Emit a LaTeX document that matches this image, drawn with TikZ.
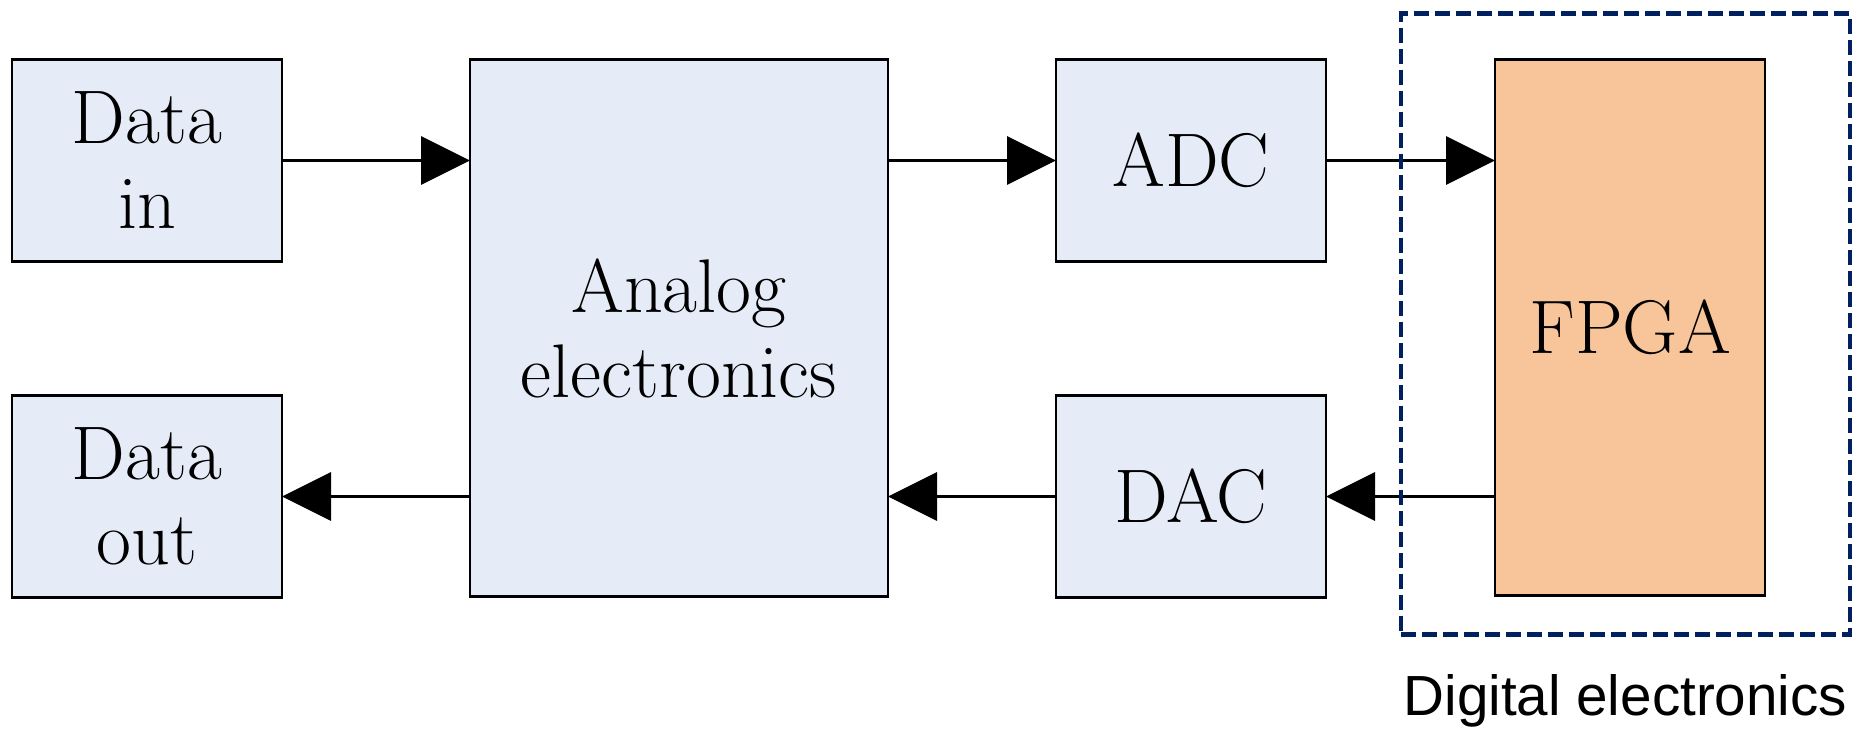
\documentclass[tikz,border=0pt]{standalone}
\usepackage{fontspec}
\newfontfamily\labelfont{Liberation Sans}
\usepackage{xcolor}
\usepackage{tikz}
\usetikzlibrary{arrows.meta, positioning, fit, calc}

\definecolor{boxblue}{HTML}{E6ECF7}
\definecolor{fpgaorange}{HTML}{F8C49A}
\definecolor{darknavy}{HTML}{002060}

\begin{document}
\begin{tikzpicture}[x=0.5pt, y=-0.5pt,
                % Define styles
                block/.style={rectangle, draw, line width=1.3pt, fill=boxblue, minimum width=135pt, minimum height=101pt, align=center, inner sep=0pt, outer sep=0pt, font=\fontsize{38}{42.5}\selectfont},
                fpgablock/.style={block, fill=fpgaorange},
                line/.style={draw, line width=1.6pt, -{Triangle[length=24.5pt, width=24pt]}},
                group/.style={draw=darknavy, line width=2.2pt, dash pattern=on 7.5pt off 3pt, inner sep=0pt}
            ]
            \useasboundingbox (0,0) rectangle (1872,730);

            % --- Nodes ---

            % 1. Data in / out
            \node [block] (datain) at (147,160.5) {Data\\in};
            \node [block, below=67pt of datain] (dataout) {Data\\out};

            % 2. Analog part
            \node [block, right=94pt of datain.north east, anchor=north west, minimum width=209pt, minimum height=268.5pt] (analog) {Analog\\electronics};

            % 3. Converters
            \node [block, right=84pt of analog.north east, anchor=north west] (adc) {ADC};
            \node [block, below=67pt of adc] (dac) {DAC};

            % 4. FPGA
            \node [fpgablock, right=84.5pt of adc.north east, anchor=north west, minimum height=268pt] (fpga) {FPGA};

            % --- Edges ---
            \path [line] (datain.east) -- (datain.east -| analog.west);
            \path [line] (analog.east |- adc) -- (adc.west);
            \path [line] (adc.east) -- (adc.east -| fpga.west);
            \path [line] (fpga.west |- dac) -- (dac.east);
            \path [line] (dac.west) -- (dac.west -| analog.east);
            \path [line] (analog.west |- dataout) -- (dataout.east);

            % --- Digital context box ---
            \coordinate (dnw) at ($(fpga.north west)+(-94,-46)$);
            \coordinate (dse) at ($(fpga.south east)+(85,39)$);
            \node [group, fit=(dnw)(dse)] (digibox) {};
            \node [anchor=base east, font=\labelfont\fontsize{28.3}{32}\selectfont] (digilabel) at ($(digibox.south east)+(2,79)$) {Digital electronics};

        \end{tikzpicture}
\end{document}
